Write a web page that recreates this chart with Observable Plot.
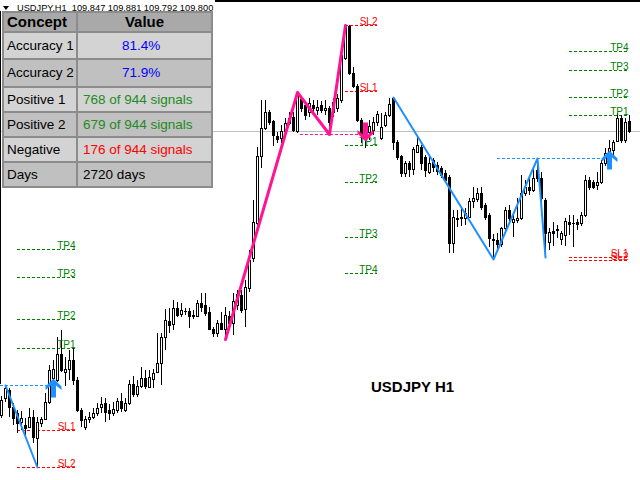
<!DOCTYPE html>
<html><head><meta charset="utf-8">
<script src="https://cdn.jsdelivr.net/npm/d3@7"></script>
<script src="https://cdn.jsdelivr.net/npm/@observablehq/plot@0.6"></script>
<style>
body{margin:0;background:#fff;}
#wrap{position:relative;width:640px;height:480px;overflow:hidden;font-family:"Liberation Sans",Arial,sans-serif;}
#chart svg{display:block;}
.ov{position:absolute;white-space:pre;}
</style></head>
<body><div id="wrap"><div id="chart"></div></div>
<script>
// ---------- data ----------
const symbolName = "USDJPY";
const timeframe = "H1";
const opens = [108.380,108.465,108.505,108.420,108.390,108.345,108.330,108.320,108.370,108.265,
108.340,108.360,108.445,108.565,108.555,108.685,108.595,108.610,108.655,108.555,
108.405,108.320,108.360,108.370,108.390,108.420,108.440,108.405,108.390,108.405,
108.450,108.405,108.440,108.535,108.485,108.525,108.565,108.520,108.560,108.595,
108.640,108.770,108.850,108.835,108.915,108.885,108.900,108.900,108.875,108.875,
108.940,108.930,108.895,108.810,108.790,108.840,108.810,108.875,108.840,108.930,
108.980,108.910,109.015,109.165,109.340,109.675,109.815,109.895,109.850,109.775,
109.765,109.800,109.840,109.870,109.800,109.960,109.930,109.895,109.930,109.905,
109.930,109.905,109.915,109.895,109.915,109.955,110.165,110.325,110.090,110.025,
109.855,109.770,109.795,109.805,109.845,109.765,109.830,109.880,109.965,109.745,
109.675,109.590,109.640,109.610,109.695,109.720,109.670,109.595,109.655,109.630,
109.615,109.590,109.570,109.240,109.360,109.365,109.365,109.370,109.450,109.460,
109.490,109.430,109.380,109.260,109.255,109.235,109.315,109.405,109.345,109.355,
109.365,109.490,109.520,109.505,109.605,109.565,109.455,109.245,109.300,109.305,
109.260,109.280,109.345,109.340,109.345,109.340,109.380,109.555,109.545,109.530,
109.545,109.640,109.690,109.705,109.750,109.865,109.755,109.847];
const highs = [108.475,108.530,108.515,108.440,108.405,108.400,108.365,108.415,108.405,108.370,
108.370,108.490,108.630,108.655,108.770,108.805,108.670,108.705,108.715,108.570,
108.415,108.375,108.395,108.415,108.440,108.470,108.465,108.435,108.445,108.465,
108.490,108.465,108.555,108.575,108.555,108.620,108.605,108.605,108.610,108.790,
108.790,108.910,108.915,108.955,108.945,108.940,108.915,108.915,108.905,108.955,
108.990,108.990,108.920,108.820,108.855,108.895,108.920,108.900,108.990,109.005,
109.005,109.055,109.205,109.455,109.720,109.955,109.955,109.905,109.855,109.795,
109.830,109.865,109.895,109.895,109.995,109.975,109.945,109.965,109.955,109.955,
109.950,109.955,109.925,109.965,109.985,110.190,110.330,110.330,110.120,110.035,
109.865,109.835,109.855,109.870,109.900,109.890,109.895,109.965,109.970,109.755,
109.680,109.650,109.650,109.720,109.780,109.730,109.680,109.680,109.665,109.645,
109.625,109.605,109.580,109.405,109.405,109.415,109.415,109.465,109.520,109.515,
109.520,109.440,109.390,109.285,109.290,109.320,109.420,109.430,109.390,109.465,
109.580,109.555,109.570,109.620,109.665,109.595,109.465,109.315,109.345,109.330,
109.300,109.365,109.380,109.380,109.360,109.395,109.580,109.570,109.555,109.595,
109.655,109.715,109.755,109.755,109.890,109.880,109.865,109.881];
const lows = [108.365,108.445,108.370,108.330,108.290,108.305,108.275,108.315,108.240,108.120,
108.320,108.355,108.435,108.535,108.545,108.595,108.525,108.555,108.530,108.395,
108.320,108.305,108.340,108.360,108.375,108.390,108.345,108.355,108.375,108.390,
108.395,108.395,108.430,108.470,108.470,108.515,108.510,108.515,108.515,108.590,
108.530,108.705,108.790,108.805,108.870,108.870,108.880,108.815,108.860,108.870,
108.895,108.875,108.805,108.770,108.770,108.805,108.760,108.820,108.780,108.905,
108.890,108.820,108.995,109.145,109.330,109.615,109.805,109.830,109.725,109.740,
109.740,109.795,109.830,109.795,109.790,109.895,109.855,109.870,109.880,109.880,
109.890,109.880,109.785,109.870,109.895,109.940,110.155,110.080,110.015,109.845,
109.740,109.715,109.755,109.780,109.825,109.755,109.820,109.870,109.705,109.655,
109.570,109.570,109.570,109.580,109.690,109.605,109.570,109.585,109.595,109.580,
109.565,109.545,109.190,109.190,109.320,109.325,109.330,109.365,109.415,109.445,
109.405,109.355,109.220,109.160,109.205,109.220,109.305,109.345,109.270,109.340,
109.355,109.475,109.480,109.495,109.545,109.440,109.170,109.205,109.225,109.265,
109.230,109.225,109.280,109.220,109.305,109.325,109.370,109.505,109.510,109.505,
109.535,109.625,109.675,109.680,109.745,109.740,109.740,109.792];
const closes = [108.455,108.515,108.420,108.365,108.340,108.365,108.315,108.370,108.270,108.345,
108.360,108.445,108.605,108.610,108.685,108.605,108.610,108.655,108.555,108.405,
108.355,108.360,108.370,108.390,108.415,108.435,108.395,108.390,108.410,108.450,
108.415,108.440,108.535,108.485,108.525,108.565,108.525,108.570,108.590,108.640,
108.770,108.855,108.830,108.915,108.880,108.905,108.8975,108.875,108.880,108.940,
108.920,108.890,108.810,108.790,108.840,108.810,108.880,108.840,108.950,108.985,
108.905,109.020,109.155,109.345,109.675,109.815,109.895,109.845,109.780,109.760,
109.800,109.840,109.865,109.805,109.980,109.915,109.880,109.940,109.915,109.920,
109.905,109.915,109.845,109.945,109.965,110.180,110.325,110.090,110.025,109.855,
109.780,109.805,109.825,109.845,109.885,109.820,109.880,109.935,109.745,109.670,
109.590,109.640,109.610,109.710,109.730,109.640,109.605,109.640,109.620,109.600,
109.580,109.555,109.240,109.370,109.365,109.370,109.390,109.450,109.465,109.490,
109.420,109.370,109.265,109.255,109.235,109.315,109.405,109.365,109.360,109.365,
109.490,109.520,109.505,109.565,109.565,109.465,109.290,109.295,109.290,109.310,
109.290,109.350,109.335,109.3375,109.335,109.380,109.555,109.520,109.520,109.545,
109.640,109.690,109.715,109.745,109.865,109.755,109.845,109.800];

// zigzag turning points (bar index, price, leg id, direction)
const zigIndex = [56, 74, 82, 86, 1, 9, 98, 123, 134, 136];
const zigPrice = [108.760, 109.995, 109.785, 110.330, 108.530, 108.120, 109.970, 109.160, 109.665, 109.170];
const zigLeg   = ["s1","s1","s1","s1","b1","b1","b2","b2","b2","b2"];
const zigDir   = ["sell","sell","sell","sell","buy","buy","buy","buy","buy","buy"];

// target / stop levels
const levelNames  = ["TP1","TP2","TP3","TP4","SL1","SL2",
                     "SL2","SL1","TP1","TP2","TP3","TP4",
                     "TP1","TP2","TP3","TP4","SL1","SL2"];
const levelPrices = [108.715,108.860,109.070,109.210,108.305,108.120,
                     110.330,110.000,109.730,109.545,109.270,109.090,
                     109.880,109.970,110.105,110.200,109.170,109.155];
const levelStart  = [4,4,4,4,4,4, 86,86,86,86,86,86, 142,142,142,142,142,142];
const levelEnd    = [18.5,18.5,18.5,18.5,18.5,18.5, 94,94,94,94,94,94, 156.75,156.75,156.75,156.75,156.75,156.75];

// entry (breakout) levels
const entryPrices = [108.530, 109.785, 109.665];
const entryStart  = [-0.25, 74.75, 124];
const entryEnd    = [12, 90, 151];
const entryDir    = ["buy", "sell", "buy"];

// signal arrows
const signalIndex = [13, 91, 152];
const signalPrice = [108.515, 109.800, 109.655];
const signalDir   = ["buy", "sell", "buy"];

// statistics table
const tableHeader = ["Concept", "Value"];
const concepts = ["Accuracy 1","Accuracy 2","Positive 1","Positive 2","Negative","Days"];
const conceptValues = ["81.4%","71.9%","768 of 944 signals","679 of 944 signals","176 of 944 signals","2720 days"];

// ---------- styles ----------
const dirColor = {buy: "#1e90ff", sell: "#ff1493"};
const levelColor = n => n.startsWith("TP") ? "#008000" : "#ff0000";
const valueColor = ["#0000ff","#0000ff","#228b22","#228b22","#ff0000","#000000"];

// ---------- build ----------
const candles = opens.map((o, i) => ({i, o, h: highs[i], l: lows[i], c: closes[i]}));
const zig = zigIndex.map((x, k) => ({x, y: zigPrice[k], leg: zigLeg[k], dir: zigDir[k]}));
const levels = levelNames.map((name, k) => ({name, price: levelPrices[k], start: levelStart[k], end: levelEnd[k]}));
const entries = entryPrices.map((p, k) => ({price: p, start: entryStart[k], end: entryEnd[k], dir: entryDir[k]}));
const signals = signalIndex.map((x, k) => ({x, y: signalPrice[k], dir: signalDir[k]}));
const current = closes[closes.length - 1];

function arrow(dir) {
  const s = dir === "buy" ? 1 : -1;
  const pts = [[0,-10],[8,-2],[8,1.5],[2.5,-3],[2.5,9],[-2.5,9],[-2.5,-3],[-8,1.5],[-8,-2]];
  return {draw(ctx, size) {
    const k = Math.sqrt(size / Math.PI) / 10;
    pts.forEach(([px, py], j) => j ? ctx.lineTo(px * k, py * k * s) : ctx.moveTo(px * k, py * k * s));
    ctx.closePath();
  }};
}

const chart = Plot.plot({
  width: 640, height: 480,
  marginTop: 0, marginRight: 0, marginBottom: 0, marginLeft: 0,
  style: {fontFamily: "Liberation Sans, Arial, sans-serif", background: "white"},
  x: {domain: [-0.25, 159.75], axis: null},
  y: {domain: [108.055, 110.455], axis: null},
  color: {type: "identity"},
  marks: [
    Plot.ruleY([current], {stroke: "#c0c0c0", strokeWidth: 1}),
    Plot.ruleY(levels, {y: "price", x1: "start", x2: "end", stroke: d => levelColor(d.name), strokeDasharray: "3,2"}),
    Plot.ruleY(entries, {y: "price", x1: "start", x2: "end", stroke: d => dirColor[d.dir], strokeDasharray: "3,2"}),
    Plot.ruleX(candles, {x: "i", y1: "l", y2: "h", stroke: "black", shapeRendering: "crispEdges"}),
    Plot.rect(candles, {x1: d => d.i - 0.25, x2: d => d.i + 0.25, y1: "o", y2: "c",
      fill: d => d.c >= d.o ? "white" : "black", stroke: "black", shapeRendering: "crispEdges"}),
    Plot.line(zig.filter(d => d.dir === "sell"), {x: "x", y: "y", z: "leg", stroke: dirColor.sell, strokeWidth: 3, strokeLinejoin: "round"}),
    Plot.line(zig.filter(d => d.dir === "buy"), {x: "x", y: "y", z: "leg", stroke: dirColor.buy, strokeWidth: 2, strokeLinejoin: "round"}),
    Plot.text(levels, {x: "end", y: "price", text: "name", textAnchor: "end", lineAnchor: "bottom", dy: -1,
      fill: d => levelColor(d.name), fontSize: 10}),
    Plot.dot(signals.filter(d => d.dir === "buy"), {x: "x", y: "y", r: 10, symbol: arrow("buy"), fill: dirColor.buy, stroke: "none"}),
    Plot.dot(signals.filter(d => d.dir === "sell"), {x: "x", y: "y", r: 10, symbol: arrow("sell"), fill: dirColor.sell, stroke: "none"})
  ]
});
document.getElementById("chart").appendChild(chart);

const wrap = document.getElementById("wrap");
function add(html, css) { const d = document.createElement("div"); d.className = "ov"; d.style.cssText = css; d.innerHTML = html; wrap.appendChild(d); return d; }

// frame lines
add("", "left:0;top:0;width:640px;height:2px;background:#000;");
add("", "left:0;top:0;width:1px;height:384px;background:#000;");
// header
add("", "left:0;top:0;width:215px;height:11px;background:#fff;");
add("", "left:3px;top:6px;width:0;height:0;border-left:3px solid transparent;border-right:3px solid transparent;border-top:4px solid #000;");
const last = closes.length - 1;
add(`${symbolName},${timeframe}  ${[opens[last], highs[last], lows[last], closes[last]].map(v => v.toFixed(3)).join(" ")}`,
  "left:17px;top:3px;font-size:9.25px;line-height:10px;color:#000;");
// big label
add(`${symbolName} ${timeframe}`, "left:371px;top:379px;font-size:15px;line-height:15px;font-weight:bold;color:#000;");

// table
const ys = [12, 32, 59, 87, 112, 137, 162, 187];
const xs = [3, 77, 212];
const rows = [tableHeader].concat(concepts.map((c, k) => [c, conceptValues[k]]));
rows.forEach((r, ri) => {
  const bg = ri === 0 ? "#a9a9a9" : (ri % 2 === 1 ? "#d3d3d3" : "#c0c0c0");
  const top = ys[ri], h = ys[ri + 1] - ys[ri];
  add("", `left:${xs[0]}px;top:${top}px;width:${xs[2] - xs[0]}px;height:${h}px;background:${bg};`);
  const fs = ri === 0 ? "font-weight:bold;font-size:15px;" : "font-size:13.5px;";
  const lh = `line-height:${h}px;`;
  add(r[0], `left:${xs[0] + 4}px;top:${top}px;height:${h}px;${lh}${fs}color:#000;`);
  let vcss;
  if (ri === 0) vcss = `left:${xs[1]}px;width:${xs[2] - xs[1]}px;text-align:center;color:#000;`;
  else {
    const isPct = r[1].endsWith("%");
    vcss = `left:${isPct ? 122 : 83}px;color:${valueColor[ri - 1]};`;
  }
  add(r[1], `${vcss}top:${top}px;height:${h}px;${lh}${fs}`);
});
ys.forEach(y => add("", `left:2px;top:${y - 1}px;width:211px;height:2px;background:#8c8c8c;`));
xs.forEach(x => add("", `left:${x - 1}px;top:11px;width:2px;height:177px;background:#8c8c8c;`));
</script></body></html>
